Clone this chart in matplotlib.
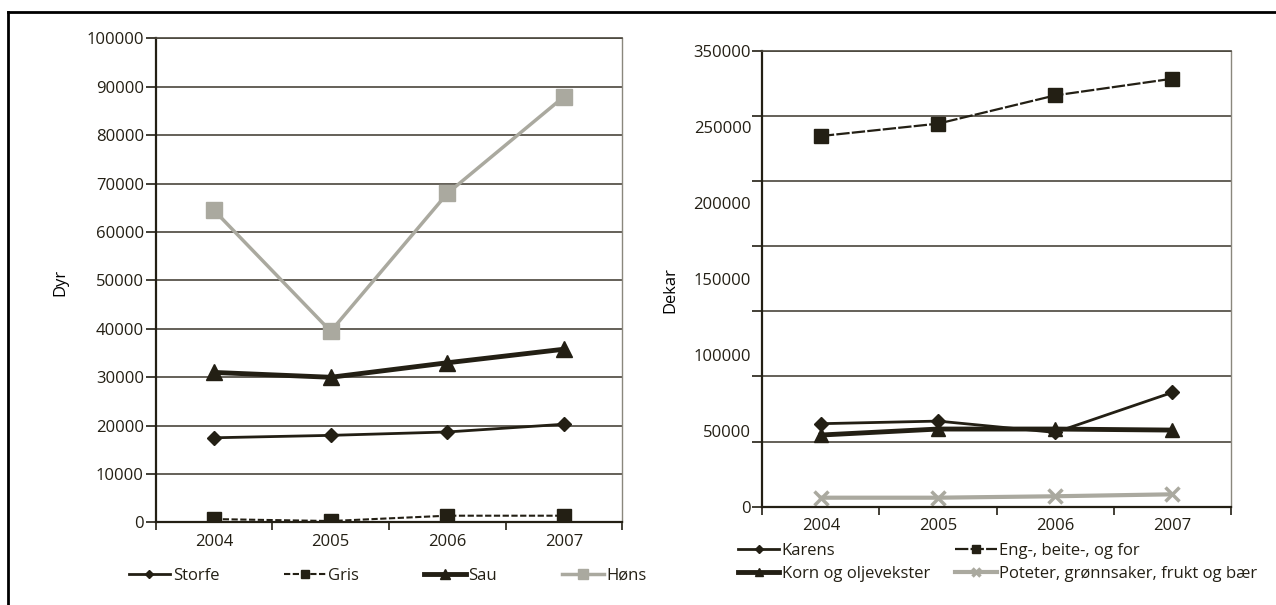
import numpy as np
import matplotlib
matplotlib.use('Agg')
import matplotlib.pyplot as plt
from matplotlib.lines import Line2D

# data
years = ['2004', '2005', '2006', '2007']
storfe = [17500, 18000, 18700, 20300]
gris = [700, 300, 1400, 1400]
sau = [31000, 30000, 33000, 35800]
hons = [64500, 39500, 68000, 88000]

karens = [63700, 65700, 57000, 87700]
eng = [284500, 294000, 315700, 328500]
korn = [55000, 59600, 59600, 58800]
poteter = [6900, 6900, 8000, 9500]

left_ticks = np.arange(0, 100001, 10000)
right_grid = np.arange(0, 350001, 50000)
right_labels = ['0', '50000', '100000', '150000', '200000', '250000', '350000']

DARK = '#231f14'
GREY = '#aaa99f'
GRID = '#4a463c'

plt.rcParams['font.family'] = ['Open Sans', 'DejaVu Sans']
plt.rcParams['font.size'] = 12
plt.rcParams['text.color'] = DARK
plt.rcParams['xtick.color'] = DARK
plt.rcParams['ytick.color'] = DARK
plt.rcParams['xtick.labelcolor'] = DARK
plt.rcParams['ytick.labelcolor'] = DARK

fig = plt.figure(figsize=(12.76, 6.05), dpi=100)
ax1 = fig.add_axes([0.1220, 0.1364, 0.3658, 0.8])
ax2 = fig.add_axes([0.5974, 0.1625, 0.3673, 0.7537])

x = np.arange(len(years))

ax1.plot(x, storfe, color=DARK, lw=2, marker='D', ms=7, label='Storfe')
ax1.plot(x, gris, color=DARK, lw=1.5, ls=(0, (3, 1.2)), marker='s', ms=9.5, label='Gris')
ax1.plot(x, sau, color=DARK, lw=3.5, marker='^', ms=11, label='Sau')
ax1.plot(x, hons, color=GREY, lw=2.5, marker='s', ms=11.5, label='Høns')

ax2.plot(x, karens, color=DARK, lw=2, marker='D', ms=7, label='Karens')
ax2.plot(x, eng, color=DARK, lw=1.6, ls=(0, (6, 1)), marker='s', ms=9.5, label='Eng-, beite-, og for')
ax2.plot(x, korn, color=DARK, lw=3.5, marker='^', ms=9.5, label='Korn og oljevekster')
ax2.plot(x, poteter, color=GREY, lw=3, marker='x', ms=10, mew=2.5,
         label='Poteter, grønnsaker, frukt og bær')

for ax in (ax1, ax2):
    ax.set_xlim(-0.5, 3.5)
    ax.set_xticks(np.arange(-0.5, 3.6, 1.0))
    ax.set_xticklabels([])
    ax.set_xticks(x, minor=True)
    ax.set_xticklabels(years, minor=True)
    ax.tick_params(axis='x', which='major', direction='out', length=6, width=1.2)
    ax.tick_params(axis='x', which='minor', length=0, pad=8)
    ax.spines['left'].set_color(DARK)
    ax.spines['left'].set_linewidth(1.6)
    ax.spines['bottom'].set_color(DARK)
    ax.spines['bottom'].set_linewidth(1.6)
    ax.spines['top'].set_color(GRID)
    ax.spines['top'].set_linewidth(1.2)
    ax.spines['right'].set_color('#8a877d')
    ax.spines['right'].set_linewidth(1.0)
    ax.set_axisbelow(True)

# left chart
ax1.set_ylim(0, 100000)
ax1.set_yticks(left_ticks)
ax1.set_yticklabels([str(v) for v in left_ticks])
ax1.tick_params(axis='y', direction='out', length=7, width=1.2, pad=1.5)
ax1.yaxis.grid(True, color=GRID, lw=1.2)
ax1.set_ylabel('Dyr')
ax1.yaxis.set_label_coords(-0.186, 0.495)

# right chart: gridlines every 50000, labels spread over six steps as in the original
ax2.set_ylim(0, 350000)
ax2.yaxis.remove_overlapping_locs = False
ax2.set_yticks(right_grid)
ax2.set_yticklabels([])
ax2.set_yticks(np.linspace(0, 350000, len(right_labels)), minor=True)
ax2.set_yticklabels(right_labels, minor=True)
ax2.tick_params(axis='y', which='major', direction='out', length=7, width=1.2)
ax2.tick_params(axis='y', which='minor', length=0, pad=8)
ax2.yaxis.grid(True, which='major', color=GRID, lw=1.2)
ax2.set_ylabel('Dekar')
ax2.yaxis.set_label_coords(-0.178, 0.475)

ax1.legend(loc='center', bbox_to_anchor=(0.4966, -0.11), ncol=4, frameon=False,
           handlelength=2.5, handletextpad=0.15, columnspacing=3.9, markerscale=0.6,
           borderaxespad=0)

h, l = ax2.get_legend_handles_labels()
order = [0, 2, 1, 3]
ax2.legend([h[i] for i in order], [l[i] for i in order], loc='center',
           bbox_to_anchor=(0.502, -0.122), ncol=2, frameon=False,
           handlelength=2.5, handletextpad=0.15, columnspacing=1.5, labelspacing=0.45,
           markerscale=0.6, borderaxespad=0)

# frame lines (top and left)
fig.add_artist(Line2D([8 / 1276, 1], [1 - 12 / 605, 1 - 12 / 605], transform=fig.transFigure,
                      color='black', lw=2))
fig.add_artist(Line2D([8 / 1276, 8 / 1276], [0, 1 - 12 / 605], transform=fig.transFigure,
                      color='black', lw=2))

fig.savefig('out.png', dpi=100)
